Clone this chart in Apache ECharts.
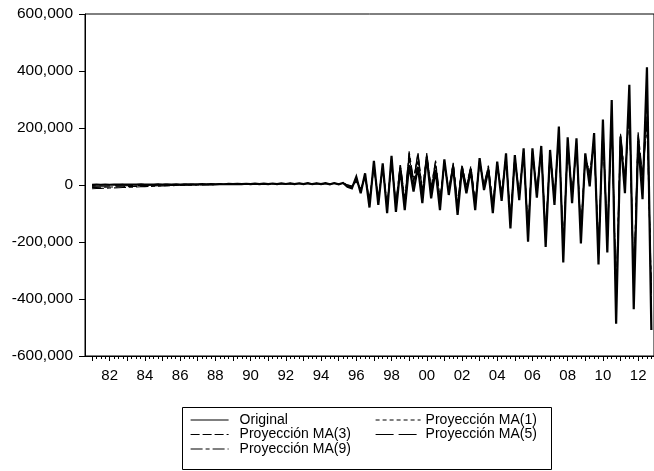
<!DOCTYPE html>
<html><head><meta charset="utf-8">
<script src="https://cdn.jsdelivr.net/npm/echarts@6/dist/echarts.min.js"></script>
<style>html,body{margin:0;padding:0;background:#fff}#c{width:654px;height:471px}</style>
</head><body><div id="c"></div>
<script>
// Quarterly data 1981Q1 .. 2012Q4
const startYear = 1981;
const labelYears = [1982,1984,1986,1988,1990,1992,1994,1996,1998,2000,2002,2004,2006,2008,2010,2012];
const yTickValues = [-600000,-400000,-200000,0,200000,400000,600000];
const seriesNames = ['Original','Proyección MA(1)','Proyección MA(3)','Proyección MA(5)','Proyección MA(9)'];

const original = [
500,1000,800,1200,900,1400,1100,1600,1200,1500,
1300,1900,1400,1700,1500,2100,1600,2000,1700,2300,
1800,2400,2000,2600,2100,2900,2300,3200,2500,3400,
2600,3800,2800,4100,3000,4400,3200,4600,3400,5000,
3300,5200,3100,5600,3500,5900,3200,6100,3000,6400,
2800,5800,3100,6200,2600,6800,2200,7100,-6000,-12000,
29000,-29000,41000,-79000,85000,-70000,76000,-99000,102000,-94000,
58000,-88000,70000,-23000,64000,-64000,99000,-47000,53000,-88000,
90000,-35000,64000,-105000,58000,-29000,53000,-88000,94000,-18000,
53000,-99000,82000,-56000,111000,-152000,105000,-53000,129000,-199000,
129000,-44000,137000,-217000,123000,-70000,205000,-272000,167000,-64000,
164000,-205000,111000,-5000,182000,-279000,230000,-237000,298000,-487000,
170000,-29000,352000,-436000,155000,-50000,413000,-509000
];
const ma1 = [
-2000,1500,500,1800,700,1900,900,2100,1000,1800,
1200,2200,1300,1900,1400,2300,1500,2200,1600,2500,
1700,2600,1900,2800,2000,3000,2200,3300,2400,3500,
2500,3800,2700,4000,2900,4300,3100,4500,3300,4800,
3300,5000,3200,5300,3400,5600,3300,5800,3100,6000,
2900,5600,3100,5900,2800,6300,2500,6600,-2000,-9000,
22000,-20000,35000,-62000,74000,-58000,70000,-85000,90000,-80000,
62000,-70000,96000,-5000,88000,-40000,105000,-28000,68000,-70000,
86000,-28000,70000,-88000,62000,-20000,58000,-75000,88000,-12000,
58000,-86000,80000,-45000,104000,-130000,100000,-42000,120000,-175000,
122000,-36000,130000,-190000,118000,-58000,185000,-240000,155000,-50000,
150000,-185000,108000,8000,168000,-250000,208000,-210000,262000,-430000,
150000,-10000,300000,-380000,180000,-20000,360000,-450000
];
const ma3 = [
-9000,-8500,-8000,-7600,-7200,-6800,-6400,-6000,-5600,-5200,
-4800,-4400,-4000,-3600,-3200,-2800,-2400,-2000,-1600,-1200,
-800,-400,0,300,600,900,1100,1400,1600,1900,
2100,2400,2600,2900,3100,3400,3500,3800,3900,4200,
4200,4500,4400,4800,4600,5000,4700,5200,4500,5400,
4300,5300,4400,5500,4000,5800,3600,6000,0,-6000,
18000,-18000,30000,-58000,70000,-55000,66000,-80000,85000,-75000,
60000,-65000,100000,8000,110000,-30000,112000,-20000,75000,-60000,
80000,-25000,72000,-80000,65000,-15000,60000,-70000,85000,-8000,
62000,-80000,78000,-40000,100000,-125000,98000,-40000,118000,-170000,
120000,-30000,128000,-185000,115000,-50000,180000,-230000,150000,-45000,
145000,-175000,100000,25000,160000,-240000,200000,-200000,255000,-420000,
165000,0,290000,-370000,165000,10000,330000,-420000
];
const ma5 = [
-5000,-4500,-4200,-3900,-3600,-3300,-3000,-2700,-2400,-2100,
-1800,-1500,-1200,-900,-600,-300,0,300,500,800,
1000,1300,1500,1800,2000,2300,2500,2800,3000,3200,
3300,3600,3700,4000,4100,4400,4400,4700,4700,5000,
4700,5100,4600,5300,4700,5500,4600,5700,4400,5800,
4200,5600,4300,5800,3900,6200,3500,6400,1000,-4000,
15000,-15000,26000,-50000,62000,-48000,60000,-72000,78000,-68000,
70000,-55000,112000,12000,116000,-20000,100000,-12000,82000,-52000,
75000,-20000,76000,-70000,70000,-10000,64000,-62000,80000,-2000,
66000,-72000,74000,-32000,95000,-115000,92000,-35000,112000,-160000,
115000,-22000,122000,-175000,110000,-40000,172000,-220000,142000,-35000,
138000,-160000,95000,40000,150000,-225000,190000,-185000,245000,-400000,
175000,15000,275000,-350000,175000,25000,240000,-380000
];
const ma9 = [
-13000,-12400,-11800,-11200,-10600,-10000,-9400,-8800,-8200,-7600,
-7000,-6400,-5800,-5200,-4600,-4000,-3500,-3000,-2500,-2000,
-1500,-1000,-600,-200,200,600,900,1200,1500,1800,
2000,2300,2500,2800,3000,3300,3400,3700,3800,4100,
4000,4400,4200,4700,4400,4900,4500,5100,4300,5300,
4100,5200,4200,5400,3800,5700,3300,5900,500,-5000,
12000,-12000,22000,-45000,56000,-42000,55000,-65000,72000,-60000,
75000,-48000,118000,18000,105000,-15000,95000,-8000,86000,-45000,
72000,-15000,78000,-62000,72000,-5000,66000,-55000,78000,2000,
68000,-65000,72000,-25000,90000,-105000,88000,-28000,108000,-150000,
110000,-15000,118000,-165000,105000,-30000,165000,-210000,135000,-25000,
132000,-150000,90000,50000,142000,-210000,182000,-172000,235000,-380000,
180000,25000,260000,-330000,185000,35000,210000,-350000
];

const allSeries = [original, ma1, ma3, ma5, ma9];
const lineTypes = ['solid', [4,3], [9,3], [18,5], [12,3,4,3]];
const lineWidths = [2.2, 1.1, 1.1, 1.1, 1.1];

const quarterIdx = original.map((_, i) => i);
const yearStarts = [];
for (let y = startYear; y < startYear + original.length / 4; y++) yearStarts.push((y - startYear) * 4);
const labelPos = labelYears.map(y => (y - startYear) * 4);

const fmtNum = v => String(v).replace(/\B(?=(\d{3})+(?!\d))/g, ',');
const FONT = 'Liberation Sans, Arial, Helvetica, sans-serif';
const X_MIN = -1.6, X_MAX = 127.6;

const legendCommon = {
  orient: 'vertical', top: 413, padding: 0, itemHeight: 10, itemGap: 0.5, selectedMode: false,
  itemStyle: {opacity: 0, borderWidth: 0},
  lineStyle: {width: 1.2}
};

const chart = echarts.init(document.getElementById('c'), null, {renderer: 'canvas'});
chart.setOption({
  animation: false,
  backgroundColor: '#fff',
  grid: {left: 85, top: 14, right: -2, bottom: 115, show: true, borderColor: '#000', borderWidth: 1, backgroundColor: 'transparent'},
  xAxis: [
    {
      type: 'value', min: X_MIN, max: X_MAX, position: 'bottom',
      axisLine: {show: true, onZero: false, lineStyle: {color: '#000', width: 1}},
      axisTick: {show: true, length: 5, inside: false, customValues: yearStarts, lineStyle: {color: '#000'}},
      axisLabel: {show: true, customValues: labelPos, margin: 12, color: '#000', fontFamily: FONT, fontSize: 15,
        formatter: v => String(startYear + Math.round(v) / 4).slice(2)},
      splitLine: {show: false}
    },
    {
      type: 'value', min: X_MIN, max: X_MAX, position: 'bottom',
      axisLine: {show: false, onZero: false},
      axisTick: {show: true, length: 3, inside: false, customValues: quarterIdx, lineStyle: {color: '#000'}},
      axisLabel: {show: false},
      splitLine: {show: false}
    }
  ],
  yAxis: {
    type: 'value', min: -600000, max: 600000, interval: 200000,
    axisLine: {show: true, onZero: false, lineStyle: {color: '#000'}},
    axisTick: {show: true, length: 6, lineStyle: {color: '#000'}},
    axisLabel: {margin: 12, color: '#000', fontFamily: FONT, fontSize: 15.5, formatter: fmtNum, customValues: yTickValues},
    splitLine: {show: false}
  },
  legend: [
    Object.assign({}, legendCommon, {
      data: [seriesNames[0], seriesNames[2], seriesNames[4]],
      left: 190, itemWidth: 38,
      textStyle: {fontFamily: FONT, fontSize: 14, lineHeight: 14, color: '#000', padding: [0,0,0,6]}
    }),
    Object.assign({}, legendCommon, {
      data: [seriesNames[1], seriesNames[3]],
      left: 375, itemWidth: 45,
      textStyle: {fontFamily: FONT, fontSize: 14, lineHeight: 14, color: '#000'}
    })
  ],
  graphic: [{
    type: 'rect', shape: {x: 182.5, y: 407.5, width: 369, height: 62},
    style: {fill: null, stroke: '#000', lineWidth: 1}, silent: true
  }],
  series: allSeries.map((arr, k) => ({
    name: seriesNames[k], type: 'line', xAxisIndex: 0, yAxisIndex: 0,
    symbol: 'none', showSymbol: false, z: k === 0 ? 3 : 4,
    data: arr.map((v, i) => [quarterIdx[i], v]),
    lineStyle: {color: '#000', width: lineWidths[k], type: lineTypes[k], join: 'miter', miterLimit: 4},
    itemStyle: {color: '#000'},
    emphasis: {disabled: true}
  }))
});
</script>
</body></html>
